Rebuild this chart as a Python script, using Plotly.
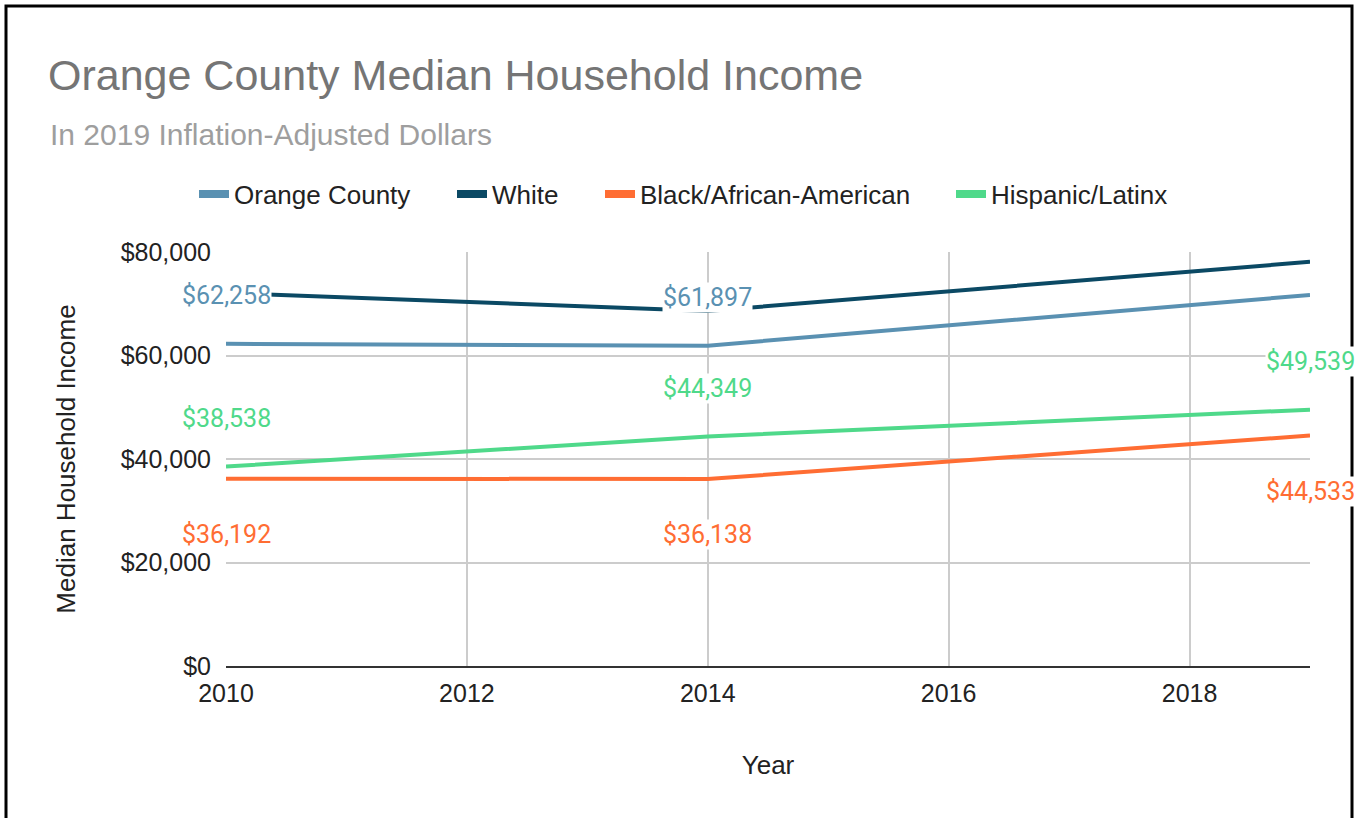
import plotly.graph_objects as go

# --- data ---
years = [2010, 2014, 2019]
orange_county = [62258, 61897, 71700]
white = [72100, 68600, 78100]
black = [36192, 36138, 44533]
hispanic = [38538, 44349, 49539]

series_names = ["Orange County", "White", "Black/African-American", "Hispanic/Latinx"]
series_values = [orange_county, white, black, hispanic]
series_colors = ["#5a91b2", "#0b4964", "#ff6d33", "#4fd98a"]

# which points carry a data label, and whether it sits above (+) or below (-)
label_points = {
    "Orange County": [True, True, False],
    "White": [False, False, False],
    "Black/African-American": [True, True, True],
    "Hispanic/Latinx": [True, True, True],
}
label_side = {"Orange County": 1, "White": 1, "Black/African-American": -1, "Hispanic/Latinx": 1}

x_ticks = [2010, 2012, 2014, 2016, 2018]
y_ticks = [0, 20000, 40000, 60000, 80000]
y_tick_labels = ["$0", "$20,000", "$40,000", "$60,000", "$80,000"]

W, H = 1363, 818
L, R, T, B = 226, 53, 252, 152
plot_w = W - L - R
plot_h = H - T - B

# left edge of each legend entry's text (px), one legend box per series
legend_text_x = [235, 493, 641, 992]


def px_x(px):
    return (px - L) / plot_w


def px_y(py):
    return (H - B - py) / plot_h


ARIAL = "Liberation Sans, Arial, sans-serif"

fig = go.Figure()

for name, vals, color in zip(series_names, series_values, series_colors):
    fig.add_trace(
        go.Scatter(
            x=years,
            y=vals,
            mode="lines",
            line=dict(color=color, width=4),
            name=name,
            showlegend=False,
            hovertemplate="%{x}: $%{y:,}<extra>" + name + "</extra>",
        )
    )

# legend-only entries with the chunky swatch, each in its own legend box
legend_ids = ["legend", "legend2", "legend3", "legend4"]
for name, color, lid in zip(series_names, series_colors, legend_ids):
    fig.add_trace(
        go.Scatter(
            x=[None],
            y=[None],
            mode="lines",
            line=dict(color=color, width=8),
            name=name,
            legend=lid,
        )
    )

annotations = []
for name, vals, color in zip(series_names, series_values, series_colors):
    for yr, v, show in zip(years, vals, label_points[name]):
        if not show:
            continue
        side = label_side[name]
        annotations.append(
            dict(
                x=yr,
                y=v,
                xref="x",
                yref="y",
                text=f"${v:,}",
                showarrow=False,
                yshift=48 if side > 0 else -56,
                font=dict(family="Roboto", size=25, color=color),
                bgcolor="white",
                borderpad=0,
            )
        )

annotations.append(
    dict(
        x=px_x(48),
        y=px_y(134),
        xref="paper",
        yref="paper",
        xanchor="left",
        yanchor="middle",
        text="In 2019 Inflation-Adjusted Dollars",
        showarrow=False,
        font=dict(family=ARIAL, size=30, color="#9e9e9e"),
    )
)

legend_style = dict(
    orientation="h",
    xref="container",
    yref="container",
    xanchor="left",
    y=1 - 194 / H,
    yanchor="middle",
    font=dict(family=ARIAL, size=26, color="#222222"),
    bgcolor="rgba(0,0,0,0)",
)
legend_layout = {
    lid: dict(legend_style, x=(tx - 41) / W) for lid, tx in zip(legend_ids, legend_text_x)
}

fig.update_layout(
    width=W,
    height=H,
    margin=dict(l=L, r=R, t=T, b=B),
    paper_bgcolor="#FFFFFF",
    plot_bgcolor="#FFFFFF",
    title=dict(
        text="Orange County Median Household Income",
        xref="container",
        yref="container",
        x=48 / W,
        xanchor="left",
        y=1 - 75 / H,
        yanchor="middle",
        font=dict(family=ARIAL, size=43, color="#757575"),
    ),
    xaxis=dict(
        range=[2010, 2019],
        tickvals=x_ticks,
        tickfont=dict(family=ARIAL, size=25, color="#222222"),
        ticklabelstandoff=4,
        showgrid=True,
        gridcolor="#cccccc",
        gridwidth=1.5,
        showline=True,
        linecolor="#333333",
        linewidth=2,
        zeroline=False,
        ticks="",
        automargin=False,
        title=dict(
            text="Year",
            font=dict(family=ARIAL, size=26, color="#222222"),
            standoff=50,
        ),
    ),
    yaxis=dict(
        range=[0, 80000],
        tickvals=y_ticks,
        ticktext=y_tick_labels,
        tickfont=dict(family=ARIAL, size=25, color="#222222"),
        ticklabelstandoff=14,
        showgrid=True,
        gridcolor="#cccccc",
        gridwidth=1.5,
        zeroline=False,
        showline=False,
        ticks="",
        automargin=False,
        title=dict(
            text="Median Household Income",
            font=dict(family=ARIAL, size=26, color="#222222"),
            standoff=37,
        ),
    ),
    annotations=annotations,
    shapes=[
        dict(
            type="rect",
            xref="paper",
            yref="paper",
            x0=px_x(6),
            x1=px_x(1352),
            y0=px_y(840),
            y1=px_y(6),
            line=dict(color="#000000", width=3),
            fillcolor="rgba(0,0,0,0)",
            layer="above",
        )
    ],
    **legend_layout,
)

fig.write_html(
    "out.html",
    config={"displayModeBar": False},
    post_script="document.body.style.margin='0';",
)
